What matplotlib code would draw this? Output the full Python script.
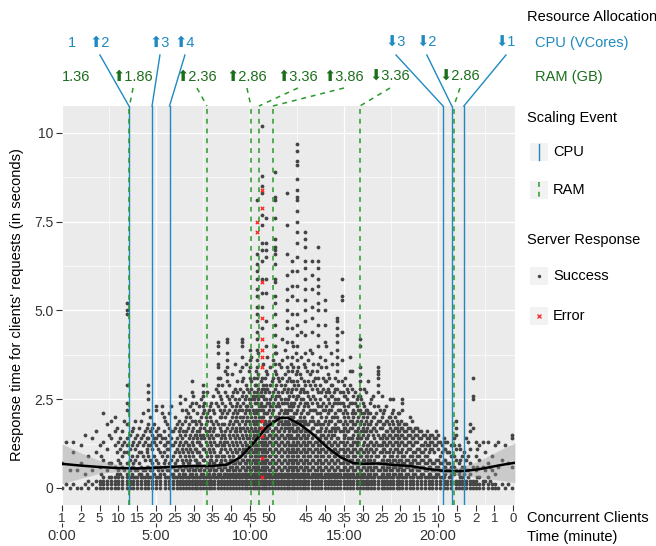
import matplotlib
matplotlib.use("Agg")
import matplotlib.pyplot as plt
from matplotlib.lines import Line2D
from matplotlib.patches import Rectangle
import matplotlib.transforms as mtransforms

plt.rcParams['font.family'] = ['Liberation Sans', 'DejaVu Sans']

# ------------------------------------------------------------------ data
# Successful requests: (request time in minutes, response times in tenths of a second)
SUCCESS_COLUMNS = [
    (0.0, [0, 7]), (0.2, [1, 13]), (0.4, [0, 5]), (0.6, [13, 1, 10]), (0.8, [5, 0]),
    (1.0, [0, 12, 7]), (1.2, [15, 1, 4]), (1.4, [0, 9, 2]), (1.6, [14, 5, 1]),
    (1.8, [16, 0, 2, 10]), (2.0, [0, 1, 2, 6, 12]), (2.2, [0, 1, 2, 3, 8, 13, 21]),
    (2.4, [0, 1, 2, 5, 11, 18]), (2.6, [0, 1, 2, 3, 7, 14, 19]),
    (2.8, [0, 1, 2, 3, 6, 12, 16, 20]), (3.0, [0, 1, 2, 3, 5, 8, 13]),
    (3.2, [0, 1, 2, 3, 6, 9, 12, 16]),
    (3.46, [0, 1, 2, 3, 4, 7, 10, 12, 14, 18, 22, 24, 29, 49, 50, 52]),
    (3.6, [0, 1, 2, 3, 5, 8, 11, 15]), (3.8, [0, 1, 2, 3, 6, 7, 13, 17]),
    (4.0, [0, 1, 2, 3, 5, 9, 12, 15]), (4.2, [0, 1, 2, 3, 4, 6, 10, 14, 19]),
    (4.4, [0, 1, 2, 3, 5, 8, 13, 16]),
    (4.57, [0, 1, 2, 3, 6, 9, 12, 14, 18, 22, 25, 27, 29]),
    (4.8, [0, 1, 2, 3, 5, 7, 11, 13, 15, 17]), (5.0, [0, 1, 2, 3, 6, 8, 12, 14, 16, 22, 23]),
    (5.2, [0, 1, 2, 3, 4, 6, 10, 13, 15]), (5.3, [5, 9, 14, 21, 23]),
    (5.5, [0, 1, 2, 3, 6, 8, 12, 14, 19]), (5.7, [0, 1, 2, 3, 5, 7, 11, 13, 15, 17, 21]),
    (5.9, [0, 1, 2, 3, 4, 6, 9, 12, 16]), (6.1, [0, 1, 2, 3, 5, 8, 11, 14, 18]),
    (6.28, [0, 1, 2, 3, 6, 9, 13, 15, 17, 24, 26]), (6.45, [0, 1, 2, 3, 4, 5, 7, 10, 12, 16]),
    (6.6, [0, 1, 2, 3, 6, 8, 11, 13, 16, 20, 22]), (6.75, [0, 1, 2, 3, 5, 7, 9, 12, 14, 18]),
    (6.9, [0, 1, 2, 3, 4, 6, 10, 13, 16, 19, 24, 27, 30]),
    (7.05, [0, 1, 2, 3, 5, 8, 11, 15, 19]), (7.2, [0, 1, 2, 3, 6, 7, 10, 13, 14, 16, 21]),
    (7.35, [0, 1, 2, 3, 5, 9, 12, 15, 17]),
    (7.5, [0, 1, 2, 3, 4, 8, 11, 15, 21, 23, 26, 27, 29]),
    (7.65, [0, 1, 2, 3, 6, 10, 13, 16, 18, 20]), (7.8, [0, 1, 2, 3, 4, 5, 7, 11, 14, 16, 22]),
    (7.95, [0, 1, 2, 3, 6, 8, 9, 12, 15, 19, 24]), (8.1, [0, 1, 2, 3, 4, 5, 7, 10, 13, 17, 21]),
    (8.3, [0, 1, 2, 3, 4, 6, 9, 12, 15, 18, 23, 27, 29, 31, 34, 35, 38, 40, 41]),
    (8.45, [0, 1, 2, 3, 5, 7, 8, 11, 14, 16, 20, 25]),
    (8.6, [0, 1, 2, 3, 4, 6, 9, 12, 13, 15, 18, 22]),
    (8.78, [0, 1, 2, 3, 4, 5, 7, 10, 13, 17, 21, 26, 30, 32, 34, 36, 38, 41, 42]),
    (8.95, [0, 1, 2, 3, 4, 6, 8, 11, 14, 16, 19, 24]),
    (9.1, [0, 1, 2, 3, 4, 5, 7, 9, 12, 15, 18, 21, 27]),
    (9.25, [0, 1, 2, 3, 4, 6, 8, 10, 13, 16, 17, 20, 23]),
    (9.4, [0, 1, 2, 3, 4, 5, 7, 9, 11, 14, 18, 22, 25]),
    (9.57, [0, 1, 2, 3, 4, 6, 8, 10, 12, 15, 19, 22, 26, 30, 34, 37, 40, 41, 42]),
    (9.72, [0, 1, 2, 3, 4, 5, 7, 9, 11, 13, 16, 18, 21, 25]),
    (9.86, [0, 1, 2, 3, 4, 6, 8, 10, 12, 14, 17, 20, 23, 28]),
    (10.0, [0, 1, 2, 3, 4, 5, 7, 9, 11, 13, 15, 18, 21, 24, 31, 34, 36, 39]),
    (10.15, [0, 1, 2, 3, 4, 6, 8, 10, 12, 14, 16, 19, 22, 26]),
    (10.25, [0, 1, 2, 3, 4, 5, 7, 9, 11, 13, 17, 20, 24, 29]),
    (10.37, [0, 1, 2, 3, 4, 6, 8, 10, 12, 15, 18, 21, 24, 27, 31, 34, 36, 39, 42, 44, 47,
             49, 51, 54, 56, 59, 61, 63, 66, 81]),
    (10.5, [0, 1, 2, 3, 4, 5, 7, 9, 11, 13, 15, 17, 20, 23, 26]),
    (10.64, [0, 1, 2, 3, 4, 6, 8, 10, 12, 14, 16, 20, 23, 26, 28, 31, 45, 51, 55, 59, 64,
             67, 69, 74, 77, 83, 85, 88, 102]),
    (10.75, [0, 1, 2, 3, 4, 5, 7, 9, 11, 13, 15, 18, 21, 25, 28]),
    (10.85, [0, 1, 2, 3, 4, 6, 8, 10, 12, 14, 17, 21, 25, 29, 33, 40, 47, 55, 59, 65, 67,
             69, 76]),
    (11.0, [0, 1, 2, 3, 4, 5, 7, 9, 11, 13, 15, 17, 19, 22, 24, 27]),
    (11.15, [0, 1, 2, 3, 4, 6, 8, 10, 12, 14, 16, 18, 21, 23, 26, 30]),
    (11.33, [0, 1, 2, 3, 4, 5, 7, 9, 11, 13, 15, 17, 20, 25, 28, 33, 35, 38, 40, 43, 46,
             49, 52, 54, 58, 59, 63, 66, 67, 68, 70, 76, 81, 82, 89]),
    (11.5, [0, 1, 2, 3, 4, 6, 8, 10, 12, 14, 16, 18, 20, 24, 27, 31]),
    (11.65, [0, 1, 2, 3, 4, 5, 7, 9, 11, 13, 15, 17, 19, 22, 25, 29, 34]),
    (11.8, [0, 1, 2, 3, 4, 6, 8, 10, 12, 14, 16, 18, 21, 24, 28]),
    (11.97, [0, 1, 2, 3, 4, 5, 7, 9, 11, 13, 15, 18, 21, 24, 27, 30, 34, 37, 41, 45, 47,
             50, 53, 56, 60, 66, 74, 83]),
    (12.1, [0, 1, 2, 3, 4, 6, 8, 10, 12, 14, 16, 18, 20, 23, 26, 31]),
    (12.23, [0, 1, 2, 3, 4, 5, 7, 9, 11, 14, 17, 19, 23, 28, 33, 37, 41, 45, 49, 54, 57,
             61, 64]),
    (12.36, [0, 1, 2, 3, 4, 6, 8, 10, 12, 14, 16, 18, 21, 24, 29]),
    (12.5, [0, 1, 2, 3, 4, 5, 7, 9, 11, 13, 15, 17, 19, 22, 26, 30, 33, 36, 40, 43, 46,
            49, 53, 57, 61, 65, 69, 72, 75, 78, 81, 82, 84, 87, 91, 92, 95, 97]),
    (12.65, [0, 1, 2, 3, 4, 6, 8, 10, 12, 14, 16, 18, 20, 24, 27, 32]),
    (12.8, [0, 1, 2, 3, 4, 5, 7, 9, 11, 13, 15, 17, 19, 22, 25, 28]),
    (12.93, [0, 1, 2, 3, 4, 6, 8, 10, 12, 14, 16, 19, 24, 29, 34, 38, 43, 47, 50, 53, 56,
             59, 62, 64, 68, 70, 72]),
    (13.1, [0, 1, 2, 3, 4, 5, 7, 9, 11, 13, 15, 18, 21, 23, 26, 30, 36]),
    (13.3, [0, 1, 2, 3, 4, 6, 8, 10, 12, 14, 17, 20, 24, 28, 33, 38, 44, 48, 51, 56, 60,
            64]),
    (13.46, [0, 1, 2, 3, 4, 5, 7, 9, 11, 13, 15, 18, 22, 25, 29, 31]),
    (13.62, [0, 1, 2, 3, 4, 6, 8, 10, 12, 14, 16, 19, 23, 27, 31, 35, 40, 43, 46, 50, 52,
             55, 57, 59, 62, 64, 68]),
    (13.8, [0, 1, 2, 3, 4, 5, 7, 9, 11, 13, 15, 17, 20, 23, 27, 34]),
    (13.99, [0, 1, 2, 3, 4, 6, 8, 10, 12, 14, 16, 19, 22, 26, 30, 36, 41, 46, 50, 53]),
    (14.15, [0, 1, 2, 3, 4, 5, 7, 9, 11, 13, 15, 18, 21, 25, 28, 32]),
    (14.3, [0, 1, 2, 3, 4, 6, 8, 10, 12, 14, 16, 19, 22, 26, 29, 38]),
    (14.46, [0, 1, 2, 3, 4, 5, 7, 9, 11, 13, 15, 17, 20, 24, 27]),
    (14.63, [0, 1, 2, 3, 4, 6, 8, 10, 12, 14, 17, 20, 24, 28, 33, 35, 37, 39, 41, 43, 45,
             47, 48]),
    (14.78, [0, 1, 2, 3, 4, 5, 7, 9, 11, 13, 16, 19, 22, 24, 27]),
    (14.89, [30, 36, 44, 53, 54, 59]),
    (15.0, [0, 1, 2, 3, 4, 6, 8, 10, 12, 14, 15, 17, 20, 23, 26, 29]),
    (15.16, [0, 1, 2, 3, 4, 5, 7, 9, 11, 13, 16, 18, 21, 25, 28]),
    (15.32, [0, 1, 2, 3, 4, 6, 8, 10, 12, 14, 17, 19, 24, 29, 33, 37]),
    (15.5, [0, 1, 2, 3, 4, 5, 7, 9, 11, 13, 15, 18, 20, 22, 26]),
    (15.68, [0, 1, 2, 3, 4, 6, 8, 10, 12, 14, 16, 19, 23, 25]),
    (15.85, [0, 1, 2, 3, 4, 5, 7, 9, 11, 14, 18, 22, 26, 28, 30, 32, 34, 40, 42]),
    (16.0, [0, 1, 2, 3, 4, 6, 8, 10, 12, 15, 17, 20, 24]),
    (16.15, [0, 1, 2, 3, 5, 7, 9, 11, 14, 16, 19, 22, 27]),
    (16.3, [0, 1, 2, 3, 4, 6, 8, 10, 12, 15, 18, 21, 30]),
    (16.45, [0, 1, 2, 3, 5, 7, 9, 11, 13, 16, 19, 25]),
    (16.62, [0, 1, 2, 3, 4, 6, 8, 10, 12, 14, 17, 20, 23]),
    (16.81, [0, 1, 2, 3, 5, 7, 9, 12, 15, 19, 23, 27, 29, 31, 32, 33, 34]),
    (17.0, [0, 1, 2, 3, 4, 6, 8, 10, 12, 14, 17, 20, 26]),
    (17.15, [0, 1, 2, 3, 5, 7, 9, 11, 13, 15, 18, 22]),
    (17.3, [0, 1, 2, 3, 4, 6, 8, 12, 14, 16, 19]),
    (17.45, [0, 1, 2, 3, 5, 7, 9, 11, 13, 15, 17, 20, 25]),
    (17.6, [0, 1, 2, 3, 4, 6, 8, 10, 12, 14, 16, 18, 22, 25]),
    (17.8, [0, 1, 2, 3, 5, 7, 9, 11, 13, 15, 17, 19]),
    (17.95, [0, 1, 2, 3, 4, 6, 8, 10, 12, 14, 16, 18, 21]),
    (18.1, [0, 1, 2, 3, 5, 7, 9, 11, 13, 15, 17, 22, 24, 25]),
    (18.3, [0, 1, 2, 3, 4, 6, 8, 10, 12, 14, 16, 18]),
    (18.5, [0, 1, 2, 3, 5, 7, 9, 11, 13, 15, 17, 20]),
    (18.7, [0, 1, 2, 3, 4, 6, 8, 10, 12, 14, 16]),
    (18.9, [0, 1, 2, 3, 5, 7, 9, 11, 13, 15, 17]),
    (19.1, [0, 1, 2, 3, 4, 6, 8, 10, 12, 14, 16]),
    (19.3, [0, 1, 2, 3, 5, 7, 9, 11, 13, 15]),
    (19.5, [0, 1, 2, 3, 4, 6, 8, 10, 12, 14]),
    (19.7, [0, 1, 2, 3, 5, 7, 11, 13, 15]),
    (19.9, [0, 1, 2, 3, 4, 6, 8, 12, 14, 16]),
    (20.1, [0, 1, 2, 3, 5, 7, 9, 13]), (20.3, [0, 1, 2, 3, 6, 8, 11, 14]),
    (20.5, [0, 1, 2, 5, 7, 10, 13]), (20.7, [0, 1, 2, 3, 4, 6, 9, 12]),
    (20.96, [0, 1, 2, 5, 8, 11, 15, 17, 19]), (21.1, [0, 1, 2, 4, 7, 12]),
    (21.3, [0, 1, 2, 3, 6, 9]), (21.5, [0, 1, 2, 5, 8, 14]),
    (21.7, [0, 1, 2, 4, 7, 11, 16, 18]), (21.86, [0, 1, 2, 6, 17, 25, 26, 31]),
    (22.0, [0, 1, 2, 5, 9, 13]), (22.2, [0, 1, 3, 8, 12]), (22.4, [0, 1, 2, 6, 13]),
    (22.66, [0, 1, 3, 7, 13]), (22.85, [0, 1, 5, 9]), (23.05, [0, 1, 4, 12]),
    (23.2, [0, 6, 13]), (23.4, [1, 8]), (23.56, [0, 12]), (23.75, [1, 7]),
    (23.94, [0, 6, 15, 14]),
]

# Further successful requests in the crowded band (minutes, tenths of a second)
SUCCESS_BAND = [
    (2.1, [4, 9]), (2.5, [3, 7, 15]), (2.9, [4, 10, 17]), (3.1, [4, 7, 11, 14]),
    (3.3, [5, 10, 13, 19]), (3.7, [4, 6, 9, 12, 16]), (3.9, [3, 5, 8, 11, 14, 19]),
    (4.1, [4, 7, 10, 13, 17]), (4.3, [3, 5, 9, 12, 15, 21]), (4.5, [4, 6, 10, 11, 14, 17]),
    (4.7, [3, 5, 8, 12, 16, 20]), (4.9, [4, 6, 9, 13, 14, 18]), (5.1, [3, 5, 7, 11, 15, 17]),
    (5.4, [4, 7, 10, 12, 16, 20]), (5.6, [3, 5, 9, 11, 13, 18]),
    (5.8, [4, 6, 8, 12, 14, 16, 23]), (6.0, [3, 5, 7, 10, 13, 17, 20]),
    (6.2, [4, 6, 10, 12, 16, 19]), (6.36, [3, 5, 8, 11, 14, 18, 22]),
    (6.52, [4, 6, 9, 13, 15, 19, 25]), (6.68, [3, 5, 7, 10, 12, 17, 21]),
    (6.82, [4, 6, 8, 11, 15, 20, 23]), (6.98, [3, 5, 9, 12, 14, 17, 22, 26]),
    (7.12, [4, 6, 8, 11, 15, 18, 24]), (7.28, [3, 5, 7, 10, 13, 16, 19, 23]),
    (7.42, [4, 6, 9, 12, 14, 18, 20, 25]), (7.58, [3, 5, 8, 11, 14, 17, 22, 24]),
    (7.72, [4, 6, 9, 12, 15, 19, 21, 27]), (7.88, [3, 5, 8, 10, 13, 17, 20, 23]),
    (8.02, [4, 6, 7, 11, 14, 16, 18, 22, 26]), (8.18, [3, 5, 8, 9, 12, 15, 19, 24, 28]),
    (8.38, [4, 6, 7, 10, 13, 17, 20, 22, 26, 31]), (8.52, [3, 5, 9, 12, 15, 18, 21, 24, 29]),
    (8.68, [4, 6, 8, 11, 14, 16, 20, 23, 27, 33]), (8.86, [3, 5, 7, 9, 12, 15, 18, 22, 25, 29]),
    (9.02, [4, 6, 8, 10, 13, 17, 20, 23, 26, 32]),
    (9.18, [3, 5, 7, 11, 14, 16, 19, 22, 25, 28, 35]),
    (9.32, [4, 6, 8, 10, 12, 15, 19, 21, 24, 27, 30]),
    (9.48, [3, 5, 7, 9, 13, 16, 17, 20, 23, 28, 33]),
    (9.64, [4, 6, 8, 11, 14, 17, 20, 24, 27, 31]),
    (9.79, [3, 5, 7, 10, 12, 15, 19, 22, 23, 26, 29, 35]),
    (9.93, [4, 6, 8, 10, 14, 16, 19, 22, 25, 27, 33]),
    (10.08, [3, 5, 7, 9, 11, 13, 17, 20, 23, 25, 28, 30, 37]),
    (10.2, [4, 6, 8, 10, 12, 15, 18, 21, 25, 27, 31]),
    (10.31, [3, 5, 7, 9, 11, 14, 16, 19, 22, 26, 29, 33]),
    (10.44, [4, 6, 8, 10, 12, 14, 16, 19, 22, 25, 28, 32, 38]),
    (10.57, [3, 5, 7, 9, 11, 13, 17, 19, 22, 24, 27, 30]),
    (10.7, [4, 6, 8, 10, 12, 14, 17, 20, 22, 26, 29, 35]),
    (10.8, [3, 5, 7, 9, 11, 13, 16, 19, 23, 27, 31]),
    (10.93, [4, 6, 8, 10, 12, 14, 16, 18, 21, 24, 28, 32, 37]),
    (11.07, [3, 5, 7, 9, 11, 13, 15, 18, 20, 23, 25, 29, 34]),
    (11.22, [4, 6, 8, 10, 12, 14, 16, 19, 22, 24, 27, 31, 36]),
    (11.41, [3, 5, 7, 9, 11, 13, 15, 17, 20, 23, 26, 29, 32, 38]),
    (11.57, [4, 6, 8, 10, 12, 14, 16, 19, 21, 23, 26, 30, 35]),
    (11.72, [3, 5, 7, 9, 11, 13, 15, 18, 20, 24, 27, 31, 36, 42]),
    (11.88, [4, 6, 8, 10, 12, 14, 17, 19, 22, 25, 29, 32, 39]),
    (12.04, [3, 5, 7, 9, 11, 13, 15, 17, 19, 22, 25, 28, 33]),
    (12.16, [4, 6, 8, 10, 12, 15, 17, 20, 22, 24, 27, 30, 35]),
    (12.3, [3, 5, 7, 9, 11, 13, 16, 18, 20, 23, 26, 30, 34, 40]),
    (12.43, [4, 6, 8, 10, 12, 14, 16, 18, 21, 25, 28, 32, 38]),
    (12.58, [3, 5, 7, 9, 11, 13, 15, 17, 19, 23, 26, 29, 34]),
    (12.72, [4, 6, 8, 10, 12, 14, 16, 19, 21, 25, 28, 31, 37, 44]),
    (12.87, [3, 5, 7, 9, 11, 13, 15, 18, 20, 23, 27, 30, 35]),
    (13.02, [4, 6, 8, 10, 12, 14, 16, 18, 21, 24, 27, 33]),
    (13.2, [3, 5, 7, 9, 11, 13, 16, 19, 22, 25, 29, 32, 39]),
    (13.38, [4, 6, 8, 10, 12, 15, 17, 19, 22, 26, 30, 35]),
    (13.54, [3, 5, 7, 9, 11, 13, 16, 18, 21, 24, 28, 33]),
    (13.71, [4, 6, 8, 10, 12, 14, 16, 18, 21, 25, 29, 37]),
    (13.9, [3, 5, 7, 9, 11, 13, 15, 18, 22, 24, 28, 31]),
    (14.07, [4, 6, 8, 10, 12, 14, 17, 20, 23, 27, 30, 34, 40]),
    (14.23, [3, 5, 7, 9, 11, 13, 16, 19, 22, 24, 27, 31]),
    (14.38, [4, 6, 8, 10, 12, 15, 17, 20, 23, 26, 29, 35]),
    (14.54, [3, 5, 7, 9, 11, 13, 16, 18, 21, 25, 28, 31]),
    (14.71, [4, 6, 8, 10, 12, 14, 17, 19, 22, 25, 30]),
    (14.94, [3, 5, 7, 9, 11, 13, 16, 18, 21, 24, 27]),
    (15.08, [4, 6, 8, 10, 12, 15, 17, 19, 22, 26, 31]),
    (15.24, [3, 5, 7, 9, 11, 14, 16, 20, 23, 27]),
    (15.41, [4, 6, 8, 10, 12, 14, 17, 19, 21, 24, 28, 33]),
    (15.59, [3, 5, 7, 9, 11, 13, 16, 18, 21, 24, 27]),
    (15.76, [4, 6, 8, 10, 13, 15, 17, 20, 22, 26]),
    (15.93, [3, 5, 7, 9, 11, 14, 16, 19, 21, 25]),
    (16.08, [4, 6, 8, 10, 13, 16, 18, 21, 23, 28]),
    (16.22, [3, 5, 7, 9, 12, 14, 17, 20, 22]),
    (16.38, [4, 6, 8, 11, 13, 16, 18, 21, 24]),
    (16.54, [3, 5, 7, 10, 12, 15, 17, 20, 26]),
    (16.7, [4, 6, 9, 11, 13, 16, 18, 21]),
    (16.9, [3, 5, 7, 10, 12, 14, 17, 19, 22]),
    (17.08, [4, 6, 8, 11, 13, 15, 18, 21]),
    (17.22, [3, 5, 7, 10, 12, 14, 16, 19, 23]),
    (17.38, [4, 6, 8, 10, 13, 15, 18, 20]),
    (17.53, [3, 5, 7, 9, 12, 14, 16, 19, 21]),
    (17.7, [4, 6, 8, 11, 13, 15, 17, 20]),
    (17.87, [3, 5, 7, 10, 12, 14, 16, 18, 21]),
    (18.03, [4, 6, 8, 10, 13, 15, 17, 19]), (18.2, [3, 5, 7, 9, 12, 14, 16, 18]),
    (18.4, [4, 6, 8, 11, 13, 15, 17]), (18.6, [3, 5, 7, 9, 12, 14, 16, 19]),
    (18.8, [4, 6, 8, 10, 13, 15, 17]), (19.0, [3, 5, 7, 9, 11, 14, 16]),
    (19.2, [4, 6, 8, 10, 12, 15]), (19.4, [3, 5, 7, 9, 12, 14, 16]),
    (19.6, [4, 6, 8, 11, 13, 15]), (19.8, [3, 5, 7, 10, 12, 14]),
    (20.0, [4, 6, 8, 11, 13, 15]), (20.2, [3, 5, 7, 10, 12]), (20.4, [4, 6, 8, 11, 13]),
    (20.6, [3, 5, 7, 10]), (20.85, [4, 6, 9, 12, 14]), (21.2, [3, 5, 8, 11]),
    (21.4, [4, 6, 10]), (21.6, [3, 5, 9, 13]), (22.1, [3, 6, 11]), (22.5, [2, 5, 10]),
    (22.75, [2, 6]),
]

# Failed requests (minutes, seconds)
ERROR_T = [10.64, 10.64, 10.37, 10.37, 10.64, 10.64, 10.64, 10.64, 10.64, 10.64,
           10.64, 10.64, 10.64, 10.64, 10.64]
ERROR_Y = [8.4, 7.9, 7.5, 7.2, 5.8, 4.8, 4.2, 3.9, 3.7, 3.4, 1.9, 1.7, 1.45, 0.85, 0.3]

# Smoothed trend and its confidence half-width
SMOOTH_T = [0, 1, 2, 3, 4, 5, 6, 7, 8, 8.8, 9.5, 10.2, 10.9, 11.6, 12.0, 12.7, 13.4,
            14.1, 14.8, 15.5, 16.0, 16.8, 17.6, 18.5, 19.4, 20.3, 21.2, 22.1, 22.9,
            23.5, 24.1]
SMOOTH_Y = [0.68, 0.63, 0.59, 0.56, 0.55, 0.57, 0.6, 0.62, 0.62, 0.66, 0.87, 1.27,
            1.72, 1.97, 1.98, 1.78, 1.49, 1.15, 0.87, 0.7, 0.68, 0.69, 0.65, 0.62,
            0.54, 0.48, 0.47, 0.52, 0.6, 0.66, 0.71]
SMOOTH_HALF = [0.56, 0.36, 0.18, 0.1, 0.07, 0.06, 0.06, 0.06, 0.06, 0.06, 0.06, 0.06,
               0.06, 0.06, 0.06, 0.06, 0.06, 0.06, 0.06, 0.06, 0.06, 0.06, 0.06, 0.06,
               0.07, 0.08, 0.12, 0.22, 0.36, 0.46, 0.56]

# Scaling events (minutes) and the allocation labels
CPU_EVENT_T = [3.56, 4.79, 5.72, 20.27, 20.74, 21.38]
CPU_LABELS = ['1', '\u2b062', '\u2b063', '\u2b064', '\u2b073', '\u2b072', '\u2b071']
RAM_EVENT_T = [3.59, 7.71, 10.05, 10.48, 11.22, 15.85, 20.85]
RAM_LABELS = ['1.36', '\u2b061.86', '\u2b062.36', '\u2b062.86', '\u2b063.36',
              '\u2b063.86', '\u2b073.36', '\u2b072.86']

CLIENT_TICK_T = [0, 1, 2, 3, 4, 5, 6, 7, 8, 9, 10, 11, 13, 14, 15, 16, 17, 18, 19, 20,
                 21, 22, 23, 24]
CLIENT_TICK_LABELS = ['1', '2', '5', '10', '15', '20', '25', '30', '35', '40', '45',
                      '50', '45', '40', '35', '30', '25', '20', '15', '10', '5', '2',
                      '1', '0']
TIME_TICK_T = [0, 5, 10, 15, 20]
TIME_TICK_LABELS = ['0:00', '5:00', '10:00', '15:00', '20:00']
Y_TICKS = [0, 2.5, 5, 7.5, 10]
Y_TICK_LABELS = ['0', '2.5', '5.0', '7.5', '10']

# ------------------------------------------------------------------ layout / style
W, H = 656, 546
CPU_COLOR = '#1f8ac2'
RAM_TEXT_COLOR = '#1c6e1c'
RAM_LINE_COLOR = '#2a9a2a'
POINT_COLOR = '#454545'
CPU_LABEL_X = [0.53, 2.02, 5.21, 6.54, 17.77, 19.41, 23.62]
RAM_LABEL_X = [0.77, 3.78, 7.18, 9.84, 12.55, 15.0, 17.45, 21.17]
FS = 10.5
DASH = (0, (3.2, 3.2))
RAM_LW = 1.1


def fx(px):
    return px / W


def fy(py):
    return 1 - py / H


fig = plt.figure(figsize=(W / 100, H / 100), dpi=100)
ax = fig.add_axes([fx(62), fy(505), fx(515) - fx(62), fy(106) - fy(505)])
ax.set_facecolor('#EBEBEB')
for s in ax.spines.values():
    s.set_visible(False)
ax.set_xlim(0, 24.1)
ax.set_ylim(-0.48, 10.76)

# grid
for gx in [0, 5, 10, 15, 20]:
    ax.axvline(gx, color='white', lw=0.9, zorder=0.5)
for gx in [2.5, 7.5, 12.5, 17.5, 22.5]:
    ax.axvline(gx, color='white', lw=0.45, zorder=0.5)
for gy in Y_TICKS:
    ax.axhline(gy, color='white', lw=0.9, zorder=0.5)
for gy in [1.25, 3.75, 6.25, 8.75]:
    ax.axhline(gy, color='white', lw=0.45, zorder=0.5)

# points
xs, ys = [], []
for t, vals in SUCCESS_COLUMNS + SUCCESS_BAND:
    for v in vals:
        xs.append(t)
        ys.append(v / 10.0)
ax.scatter(xs, ys, s=7.5, color=POINT_COLOR, linewidths=0, zorder=2)
ax.scatter(ERROR_T, ERROR_Y, s=6, marker='x', color='#ff2020', linewidths=0.9, zorder=2.5)

# smooth
lo = [y - h for y, h in zip(SMOOTH_Y, SMOOTH_HALF)]
hi = [y + h for y, h in zip(SMOOTH_Y, SMOOTH_HALF)]
ax.fill_between(SMOOTH_T, lo, hi, color='#999999', alpha=0.4, linewidth=0, zorder=3)
ax.plot(SMOOTH_T, SMOOTH_Y, color='black', lw=1.8, zorder=4, solid_capstyle='butt')

# scaling event lines
for t in CPU_EVENT_T:
    ax.axvline(t, color=CPU_COLOR, lw=1.0, zorder=5)
for t in RAM_EVENT_T:
    ax.axvline(t, color=RAM_LINE_COLOR, lw=RAM_LW, ls=DASH, zorder=6)

# labels above panel
trans = mtransforms.blended_transform_factory(ax.transData, ax.transAxes)
ah = 399.0
cpu_y = (505 - 43) / ah
ram_y = (505 - 77) / ah
cpu_seg = (505 - 55) / ah
ram_seg = (505 - 88) / ah
for i, (lx, lab) in enumerate(zip(CPU_LABEL_X, CPU_LABELS)):
    ax.text(lx, cpu_y, lab, transform=trans, color=CPU_COLOR, fontsize=FS,
            ha='center', va='center', clip_on=False)
    if i > 0:
        ax.add_line(Line2D([lx, CPU_EVENT_T[i - 1]], [cpu_seg, 1.0], transform=trans,
                           color=CPU_COLOR, lw=1.0, clip_on=False))
for i, (lx, lab) in enumerate(zip(RAM_LABEL_X, RAM_LABELS)):
    ax.text(lx, ram_y, lab, transform=trans, color=RAM_TEXT_COLOR, fontsize=FS,
            ha='center', va='center', clip_on=False)
    if i > 0:
        ax.add_line(Line2D([lx, RAM_EVENT_T[i - 1]], [ram_seg, 1.0], transform=trans,
                           color=RAM_LINE_COLOR, lw=RAM_LW, ls=DASH, clip_on=False))

# axes ticks
ax.set_xticks(CLIENT_TICK_T)
ax.set_xticklabels(CLIENT_TICK_LABELS)
ax.set_yticks(Y_TICKS)
ax.set_yticklabels(Y_TICK_LABELS)
ax.tick_params(axis='both', which='major', length=4, width=0.8, color='#333333',
               labelcolor='#333333', labelsize=FS - 0.5, pad=2)
ax.tick_params(axis='x', labelsize=FS - 1, pad=1.5)

sec = ax.secondary_xaxis(-(523 - 505) / ah)
sec.set_xticks(TIME_TICK_T)
sec.set_xticklabels(TIME_TICK_LABELS)
sec.spines['bottom'].set_visible(False)
sec.tick_params(length=3, width=0.8, color='#333333', labelcolor='#333333',
                labelsize=FS, pad=1)

fig.text(fx(527), fy(518), 'Concurrent Clients', fontsize=FS, ha='left', va='center')
fig.text(fx(527), fy(537), 'Time (minute)', fontsize=FS, ha='left', va='center')
fig.text(fx(17), fy(305), "Response time for clients' requests (in seconds)",
         fontsize=FS, rotation=90, ha='center', va='center')

# legend
fig.text(fx(527), fy(17), 'Resource Allocation', fontsize=FS, ha='left', va='center')
fig.text(fx(535), fy(43), 'CPU (VCores)', fontsize=FS, ha='left', va='center', color=CPU_COLOR)
fig.text(fx(535), fy(77), 'RAM (GB)', fontsize=FS, ha='left', va='center', color=RAM_TEXT_COLOR)
fig.text(fx(527), fy(118), 'Scaling Event', fontsize=FS, ha='left', va='center')
fig.text(fx(527), fy(240), 'Server Response', fontsize=FS, ha='left', va='center')


def key_box(cy):
    fig.add_artist(Rectangle((fx(530), fy(cy + 9)), fx(18), 18 / H, transform=fig.transFigure,
                             facecolor='#F2F2F2', edgecolor='none'))


for cy, lab in [(152, 'CPU'), (190, 'RAM'), (276, 'Success'), (316, 'Error')]:
    key_box(cy)
    fig.text(fx(553), fy(cy), lab, fontsize=FS, ha='left', va='center')
fig.add_artist(Line2D([fx(539), fx(539)], [fy(144), fy(160)], transform=fig.transFigure,
                      color=CPU_COLOR, lw=1.0))
fig.add_artist(Line2D([fx(539), fx(539)], [fy(182), fy(198)], transform=fig.transFigure,
                      color=RAM_LINE_COLOR, lw=RAM_LW, ls=DASH))
fig.add_artist(Line2D([fx(539)], [fy(276)], transform=fig.transFigure, marker='o',
                      markersize=2.5, color=POINT_COLOR, markeredgewidth=0, ls='none'))
fig.add_artist(Line2D([fx(539)], [fy(316)], transform=fig.transFigure, marker='x',
                      markersize=2.5, color='#ff2020', markeredgewidth=0.9, ls='none'))

fig.savefig('out.png', dpi=100)
